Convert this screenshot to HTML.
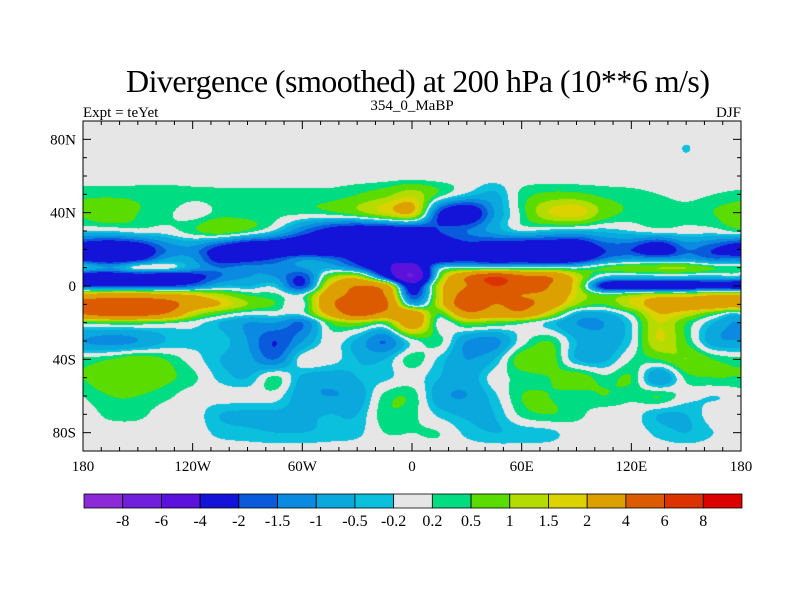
<!DOCTYPE html>
<html><head><meta charset="utf-8"><style>
body{margin:0;background:#fff;width:800px;height:600px;overflow:hidden}
#wrap{position:relative;width:800px;height:600px}
canvas{position:absolute;left:83px;top:121px}
svg{position:absolute;left:0;top:0}
text{font-family:"Liberation Serif",serif;fill:#000}
</style></head><body>
<div id="wrap">
<canvas id="map" width="658" height="330"></canvas>
<svg id="svg" width="800" height="600">
<text x="418" y="92" text-anchor="middle" font-size="32" textLength="584">Divergence (smoothed) at 200 hPa (10**6 m/s)</text>
<text x="83" y="117" font-size="15">Expt = teYet</text>
<text x="412" y="110" text-anchor="middle" font-size="15">354_0_MaBP</text>
<text x="741" y="117" text-anchor="end" font-size="15">DJF</text>
</svg>
</div>
<script>
const lons=[-180,-165,-150,-135,-120,-105,-90,-75,-60,-45,-30,-15,0,15,30,45,60,75,90,105,120,135,150,165,180];
const lats=[90,75,60,50,40,30,20,15,10,5,0,-5,-10,-15,-20,-30,-40,-50,-60,-70,-80,-90];
const r90=[0,0,0,0,0,0,0,0,0,0,0,0,0,0,0,0,0,0,0,0,0,0,0,0,0];
const r75=[0,0,0,0,0,0,0,0,0,0,0,0,0,0,0,0,0,0,0,0,0,0,-0.21,0,0];
const r60=[0,0,0,0,0,0,0,0,0,0,0,0,0,0,0,0,0,0,0,0,0,0,0,0,0];
const r50=[0.4,0.4,0.4,0.4,0.3,0.3,0.3,0.3,0.3,0.3,0.5,0.8,1.3,0.4,-0.3,-0.6,0.3,0.6,0.6,0.4,0.3,0.2,0.1,0.2,0.3];
const r40=[0.6,0.9,0.5,0.3,0,0.3,0.3,0.3,0.3,0.4,0.8,1.5,2,-2,-3,-1,0.3,1.5,1.8,0.8,0.4,0.4,0.3,0.5,0.8];
const r30=[-0.2,-0.2,0,0,0.4,0.8,0.4,-0.3,-1.5,-2.5,-3,-3,-2.8,-2,-1.5,-0.8,-0.2,-0.4,-0.5,-0.4,-0.2,0,0,0,0.3];
const r20=[-3,-3.5,-3,-1.5,-1.2,-2.5,-3.5,-3.5,-3.5,-3.5,-3,-3,-2.5,-3,-2.5,-3,-3.5,-3.5,-3.5,-2,-2,-3,-1.5,-2,-3];
const r15=[-2.5,-3,-2.5,-1,-1,-2.5,-2.5,-2,-1.2,-1.5,-2.5,-3.5,-3,-3,-2.5,-3,-3,-3.5,-3,-1.5,-1,-1.2,-1,-1.5,-1.5];
const r10=[-0.3,-1,0,0,-0.8,-1.5,-1.2,-1.2,-1,-0.6,-1.5,-3.5,-5,-0.5,0,0,0,0,0,0.5,0.8,1,1,0.5,0.3];
const r5=[-3,-3,-3,-3,-2.5,-1.5,-1,-1,-2,0.8,1.5,-2,-6,0.5,4,6,4.5,4,1.5,-0.3,-0.5,-0.5,-0.5,-0.5,-0.5];
const r0=[-2,-2,-2,-2,-1.5,-0.5,-0.5,-0.3,-2,2,4,3,-3,1.5,4,6,5,4,1.5,-2.5,-3,-3,-3,-2.5,-3];
const rS5=[2.5,3,3,2.5,2,1.2,0.5,0.3,0,3,4.5,4,-2,1.5,5,4.5,4,3.5,1.5,0.5,1,1.5,1.5,2,2];
const rS10=[5,5.5,5.5,5,3,2,1,0.5,0,3.5,5.5,4.5,-0.5,1.5,5.5,4,4.5,3,1,0.5,1.5,2.5,3,3,3];
const rS15=[4,5,5,4,1.5,0.5,0,0,0,2.5,5,3.5,3,0.5,3.5,3,3.5,1.5,-0.5,-0.6,0.3,2,1.5,0.5,0];
const rS20=[0.3,0.5,0.5,0.3,0,-0.5,-1,-1,-1.5,0.5,1,0.5,3,0,0.8,0.6,0.3,-0.3,-1,-1,-0.2,1.5,0.5,-0.5,-1];
const rS30=[-1,-1.2,-1,-0.5,-0.3,-0.3,-1,-2,-1,0,-0.6,-1.5,0,0.3,-1,-1.2,0,0.5,-0.5,-0.8,-0.2,1.5,0.5,-0.8,-1];
const rS40=[0.3,0.5,0.8,0.5,0,-0.5,-0.8,-1.5,0,0,-0.5,-0.5,0.4,-0.3,-1,-0.5,0.8,0.8,-0.5,-0.6,0.2,0.5,1,0.5,0.3];
const rS50=[0.5,0.8,0.8,0.6,0.3,-0.3,-0.5,0.3,-0.6,-0.8,-0.5,-0.3,0,-0.5,-0.8,0,0.3,0.5,0.8,0.3,0.5,-1,0.3,0.5,0.5];
const rS60=[0.2,0.5,0.5,0.3,0,0,0,0,-0.8,-1,-0.8,0.3,0.4,-0.8,-1,-0.3,0.5,0.5,0.3,0.5,0.3,0.5,0,-0.2,0];
const rS70=[0,0.3,0.3,0,0,-0.5,-0.6,-0.6,-0.6,-0.5,-0.5,0.4,0.3,-0.3,-0.6,-0.5,0.3,0.5,0.3,0,0,-0.5,-0.5,0,0];
const rS80=[0,0,0,0,0,-0.3,-0.4,-0.5,-0.5,-0.4,-0.3,0.2,0.2,0.2,-0.3,-0.5,-0.4,-0.3,0,0,0,-0.3,-0.5,-0.2,0];
const rS90=[0,0,0,0,0,0,0,0,0,0,0,0,0,0,0,0,0,0,0,0,0,0,0,0,0];
const grid=[r90,r75,r60,r50,r40,r30,r20,r15,r10,r5,r0,rS5,rS10,rS15,rS20,rS30,rS40,rS50,rS60,rS70,rS80,rS90];
const levels=[-8,-6,-4,-2,-1.5,-1,-0.5,-0.2,0.2,0.5,1,1.5,2,4,6,8];
const levelLabels=["-8","-6","-4","-2","-1.5","-1","-0.5","-0.2","0.2","0.5","1","1.5","2","4","6","8"];
const colors=["#8c2ad8","#7020dc","#5a12dc","#1414d8","#0a5adc","#0a8ae0","#0aa8dc","#0ac0dc","#e6e6e6","#00dc82","#5adc00","#b4dc00","#dcd200","#dca000","#dc5a00","#dc3200","#dc0000"];

const PX=83,PY=121,PW=658,PH=330;
const xOf=lon=>PX+(lon+180)/360*PW;
const yOf=lat=>PY+(90-lat)/180*PH;
function rgb(h){return [parseInt(h.substr(1,2),16),parseInt(h.substr(3,2),16),parseInt(h.substr(5,2),16)];}
const crgb=colors.map(rgb);
function cr(p0,p1,p2,p3,t){return 0.5*((2*p1)+(-p0+p2)*t+(2*p0-5*p1+4*p2-p3)*t*t+(-p0+3*p1-3*p2+p3)*t*t*t);}
function g(j,i){j=Math.max(0,Math.min(lats.length-1,j));
  if(i<0)i+=lons.length-1; if(i>lons.length-1)i-=lons.length-1; return grid[j][i];}
function val(lon,lat){
  let i=Math.min(lons.length-2,Math.max(0,Math.floor((lon+180)/15)));
  let tx=(lon-lons[i])/(lons[i+1]-lons[i]);
  let j=0;while(j<lats.length-2&&lat<lats[j+1])j++;
  let ty=(lats[j]-lat)/(lats[j]-lats[j+1]);
  tx=Math.max(0,Math.min(1,tx));ty=Math.max(0,Math.min(1,ty));
  const rows=[];
  for(let k=-1;k<=2;k++)rows.push(cr(g(j+k,i-1),g(j+k,i),g(j+k,i+1),g(j+k,i+2),tx));
  return cr(rows[0],rows[1],rows[2],rows[3],ty);
}
const cv=document.getElementById('map');const ctx=cv.getContext('2d');
const img=ctx.createImageData(PW,PH);
for(let y=0;y<PH;y++){const lat=90-(y+0.5)/PH*180;
 for(let x=0;x<PW;x++){const lon=-180+(x+0.5)/PW*360;const v=val(lon,lat);
  let k=0;while(k<levels.length&&v>=levels[k])k++;
  const c=crgb[k];const o=(y*PW+x)*4;img.data[o]=c[0];img.data[o+1]=c[1];img.data[o+2]=c[2];img.data[o+3]=255;}}
ctx.putImageData(img,0,0);

const svg=document.getElementById('svg');const NS='http://www.w3.org/2000/svg';
function mk(t,a){const e=document.createElementNS(NS,t);for(const k in a)e.setAttribute(k,a[k]);svg.appendChild(e);return e;}
const frame=mk('rect',{x:PX,y:PY,width:PW,height:PH,fill:'none',stroke:'#000','stroke-width':1});


for(let lon=-180;lon<=180;lon+=10){const x=xOf(lon);const L=(lon%60===0)?8:4;
 const t1=mk('line',{x1:x,y1:PY+PH,x2:x,y2:PY+PH-L,stroke:'#000'});
 
 
 const t2=mk('line',{x1:x,y1:PY,x2:x,y2:PY+L,stroke:'#000'});
 
 }
for(let lat=-80;lat<=80;lat+=10){const y=yOf(lat);const L=(lat%40===0)?8:4;
 const t1=mk('line',{x1:PX,y1:y,x2:PX+L,y2:y,stroke:'#000'});
 
 
 const t2=mk('line',{x1:PX+PW,y1:y,x2:PX+PW-L,y2:y,stroke:'#000'});
 
 }
const xt=[[-180,'180'],[-120,'120W'],[-60,'60W'],[0,'0'],[60,'60E'],[120,'120E'],[180,'180']];
xt.forEach(([l,s])=>{const t=mk('text',{x:xOf(l),y:471,'text-anchor':'middle','font-size':15});t.textContent=s;
 
 });
const yt=[[80,'80N'],[40,'40N'],[0,'0'],[-40,'40S'],[-80,'80S']];
yt.forEach(([l,s])=>{const t=mk('text',{x:76,y:yOf(l)+5,'text-anchor':'end','font-size':15});t.textContent=s;
 
 });
const CX=84,CW=658,CY=494,CH=14,bw=CW/colors.length;
colors.forEach((c,i)=>{const r=mk('rect',{x:CX+i*bw,y:CY,width:bw,height:CH,fill:c,stroke:'#000','stroke-width':0.8});
 
 });
levelLabels.forEach((s,i)=>{const t=mk('text',{x:CX+(i+1)*bw,y:526,'text-anchor':'middle','font-size':16});t.textContent=s;
 
 });
</script>
</body></html>
